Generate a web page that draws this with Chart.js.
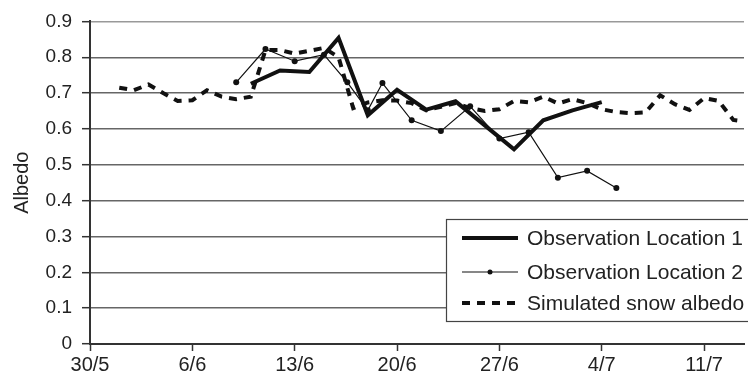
<!DOCTYPE html>
<html>
<head>
<meta charset="utf-8">
<script src="https://cdn.jsdelivr.net/npm/chart.js@4/dist/chart.umd.min.js"></script>
<style>
  body { margin: 0; background: #fff; }
</style>
</head>
<body>
<canvas id="myChart" width="748" height="375"></canvas>
<script>
// days counted from 30/5
var tickLabels = ['30/5', '6/6', '13/6', '20/6', '27/6', '4/7', '11/7'];

var loc1Days = [11, 13, 15, 17, 19, 21, 23, 25, 27, 29, 31, 33, 35];
var loc1Albedo = [0.726, 0.763, 0.759, 0.854, 0.638, 0.709, 0.654, 0.677, 0.610, 0.543, 0.624, 0.652, 0.675];

var loc2Days = [10, 12, 14, 16, 17.6, 19, 20, 22, 24, 26, 28, 30, 32, 34, 36];
var loc2Albedo = [0.730, 0.823, 0.789, 0.807, 0.730, 0.652, 0.728, 0.624, 0.594, 0.663, 0.573, 0.591, 0.464, 0.483, 0.435];

var simDays = [2, 3, 4, 5, 6, 7, 8, 9, 10, 11, 12, 13, 14, 15, 16, 17, 18, 19, 20, 21, 22, 23,
    24, 25, 26, 27, 28, 29, 30, 31, 32, 33, 34, 35, 36, 37, 38, 39, 40, 41, 42, 43, 44, 45];
var simAlbedo = [0.715, 0.708, 0.724, 0.700, 0.678, 0.680, 0.708, 0.690, 0.683, 0.690, 0.820, 0.820,
    0.810, 0.818, 0.826, 0.800, 0.658, 0.674, 0.680, 0.679, 0.672, 0.652, 0.662, 0.672, 0.658, 0.650,
    0.655, 0.678, 0.674, 0.690, 0.671, 0.683, 0.672, 0.655, 0.647, 0.644, 0.646, 0.694, 0.669, 0.653,
    0.686, 0.678, 0.625, 0.620];

function toPoints(days, vals) {
    return days.map(function(d, i) { return {x: d, y: vals[i]}; });
}

var FONT = 'Liberation Sans, Arial, sans-serif';

// legend drawn as a framed box inside the plot, like the original
var legendBox = {
    id: 'legendBox',
    afterDraw: function(chart) {
        var ctx = chart.ctx;
        var x0 = 446, y0 = 219, w = 330, h = 102;
        ctx.save();
        ctx.fillStyle = '#fff';
        ctx.fillRect(x0, y0, w, h);
        ctx.strokeStyle = '#444';
        ctx.lineWidth = 1.2;
        ctx.strokeRect(x0 + 0.5, y0 + 0.5, w, h);
        var rows = [238, 272, 303];
        chart.data.datasets.forEach(function(ds, i) {
            var y = rows[i];
            ctx.beginPath();
            ctx.strokeStyle = ds.borderColor;
            ctx.lineWidth = ds.borderWidth;
            ctx.setLineDash(ds.borderDash || []);
            ctx.moveTo(462, y);
            ctx.lineTo(518, y);
            ctx.stroke();
            ctx.setLineDash([]);
            if (ds.pointRadius > 0) {
                ctx.beginPath();
                ctx.fillStyle = ds.pointBackgroundColor;
                ctx.arc(490, y, ds.pointRadius - 0.5, 0, Math.PI * 2);
                ctx.fill();
            }
            ctx.fillStyle = '#222';
            ctx.font = '21px ' + FONT;
            ctx.textBaseline = 'middle';
            ctx.fillText(ds.label, 527, y + 1);
        });
        ctx.restore();
    }
};

var ctx = document.getElementById('myChart').getContext('2d');
var chart = new Chart(ctx, {
    type: 'line',
    data: {
        datasets: [{
            label: 'Observation Location 1',
            data: toPoints(loc1Days, loc1Albedo),
            borderColor: '#111',
            borderWidth: 4,
            pointRadius: 0,
            tension: 0,
            fill: false
        }, {
            label: 'Observation Location 2',
            data: toPoints(loc2Days, loc2Albedo),
            borderColor: '#111',
            borderWidth: 1.2,
            pointRadius: 3,
            pointBorderWidth: 0,
            pointBackgroundColor: '#111',
            tension: 0,
            fill: false
        }, {
            label: 'Simulated snow albedo',
            data: toPoints(simDays, simAlbedo),
            borderColor: '#111',
            borderWidth: 4,
            borderDash: [8, 7],
            pointRadius: 0,
            tension: 0,
            fill: false
        }]
    },
    options: {
        responsive: false,
        animation: false,
        layout: { padding: { top: 10, right: 0, left: 0, bottom: 0 } },
        plugins: {
            legend: { display: false },
            tooltip: { enabled: false }
        },
        scales: {
            x: {
                type: 'linear',
                min: 0,
                max: 44.73,
                afterFit: function(s) { s.height = 31; },
                ticks: {
                    stepSize: 7,
                    includeBounds: false,
                    autoSkip: false,
                    maxRotation: 0,
                    padding: 2,
                    color: '#222',
                    font: { family: FONT, size: 20 },
                    callback: function(v) { return tickLabels[Math.round(v / 7)]; }
                },
                grid: {
                    drawOnChartArea: false,
                    tickLength: 7,
                    tickColor: '#333',
                    tickWidth: 1.5
                },
                border: { color: '#333', width: 2 }
            },
            y: {
                min: 0,
                max: 0.9,
                afterFit: function(s) { s.width = 90; },
                ticks: {
                    stepSize: 0.1,
                    padding: 10,
                    color: '#222',
                    font: { family: FONT, size: 19 }
                },
                grid: {
                    color: function(c) { return c.tick && c.tick.value > 0.85 ? '#999' : '#666'; },
                    lineWidth: 1.4,
                    tickLength: 8,
                    tickColor: '#333',
                    tickWidth: 1.5
                },
                border: { color: '#333', width: 2 },
                title: {
                    display: true,
                    text: 'Albedo',
                    color: '#222',
                    padding: 10,
                    font: { family: FONT, size: 20 }
                }
            }
        }
    },
    plugins: [legendBox]
});
</script>
</body>
</html>
